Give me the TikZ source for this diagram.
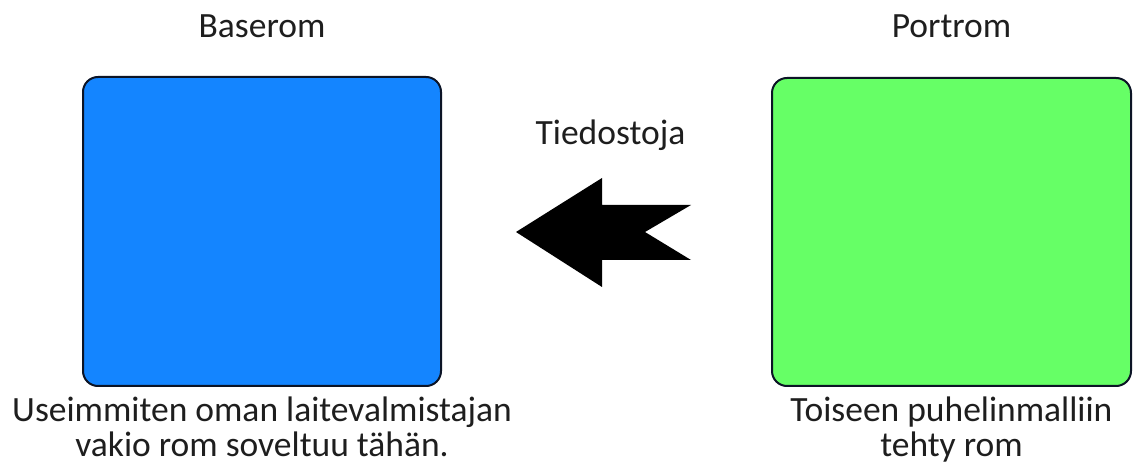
\documentclass[tikz,border=0pt]{standalone}
\usepackage{fontspec}
\setmainfont{Carlito}
\definecolor{boxblue}{RGB}{20,133,255}
\definecolor{boxgreen}{RGB}{102,255,102}
\definecolor{edge}{RGB}{12,20,38}
\definecolor{txt}{RGB}{30,30,30}
\tikzset{
  romBox/.style={draw=edge, line width=2pt, rounded corners=15pt},
  lbl/.style={text=txt, font=\fontsize{35.5}{35}\selectfont, anchor=base, inner sep=0pt, align=center},
}
\begin{document}
\begin{tikzpicture}[x=1pt,y=-1pt]
\useasboundingbox (0,0) rectangle (1133,470);
\fill[white] (0,0) rectangle (1133,470);
\draw[romBox, fill=boxblue] (83,77) rectangle (441,386);
\draw[romBox, fill=boxgreen] (772,78) rectangle (1131,386);
\node[lbl] (base) at (262,38) {Baserom};
\node[lbl] (port) at (951.5,38) {Portrom};
\node[lbl] (tied) at (610.5,145) {Tiedostoja};
\node[lbl] (bdesc) at (262,456.7) {Useimmiten oman laitevalmistajan\\vakio rom soveltuu tähän.};
\node[lbl] (gdesc) at (951.5,456.7) {Toiseen puhelinmalliin\\tehty rom};
\fill[black] (516,232) -- (602,178) -- (602,205) -- (691,205) -- (645,232) -- (691,260) -- (602,260) -- (602,287) -- cycle;
\end{tikzpicture}
\end{document}
